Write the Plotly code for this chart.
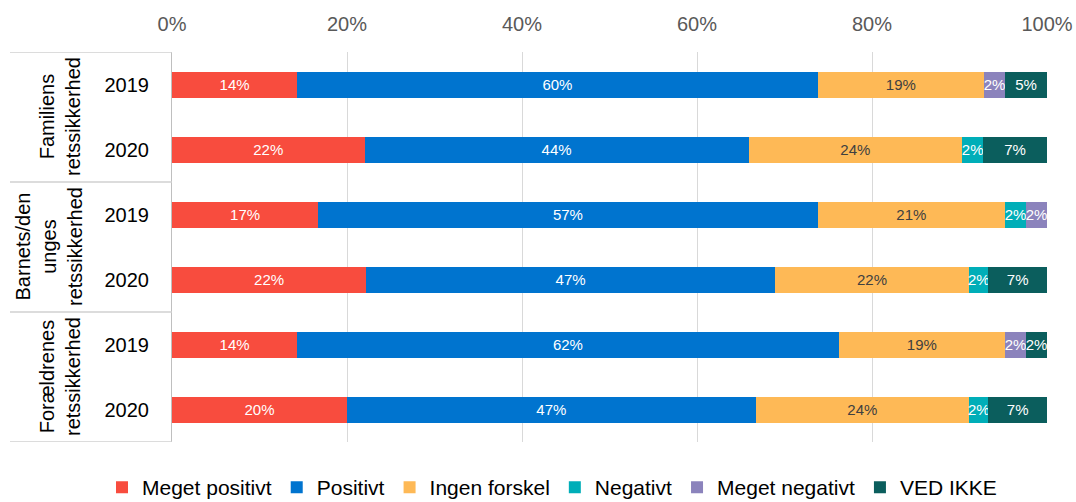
import plotly.graph_objects as go

groups = ["Familiens<br>retssikkerhed", "Barnets/den<br>unges<br>retssikkerhed", "Forældrenes<br>retssikkerhed"]
years = ["2019", "2020", "2019", "2020", "2019", "2020"]

series_names = ["Meget positivt", "Positivt", "Ingen forskel", "Negativt", "Meget negativt", "VED IKKE"]
meget_positivt = [14.3, 22.0, 16.7, 22.2, 14.3, 20.0]
positivt = [59.5, 43.9, 57.1, 46.7, 61.9, 46.7]
ingen_forskel = [19.0, 24.4, 21.4, 22.2, 19.0, 24.4]
negativt = [0, 2.4, 2.4, 2.2, 0, 2.2]
meget_negativt = [2.4, 0, 2.4, 0, 2.4, 0]
ved_ikke = [4.8, 7.3, 0, 6.7, 2.4, 6.7]

colors = ["#F84C3E", "#0074CF", "#FEB956", "#00AEB8", "#8B83BC", "#0B5E5D"]
text_colors = ["white", "white", "#404040", "white", "white", "white"]
all_series = [meget_positivt, positivt, ingen_forskel, negativt, meget_negativt, ved_ikke]

FONT = "Liberation Sans, Arial, sans-serif"
ypos = list(range(len(years)))

fig = go.Figure()
for name, vals, col, tcol in zip(series_names, all_series, colors, text_colors):
    fig.add_trace(go.Bar(
        y=ypos, x=[v if v else None for v in vals], orientation="h", name=name,
        marker=dict(color=col, line=dict(width=0)),
        text=[f"{v:.0f}%" if v else "" for v in vals],
        textposition="inside", insidetextanchor="middle", textangle=0,
        textfont=dict(color=tcol, size=15, family=FONT),
        width=0.4, hoverinfo="skip",
    ))

fig.update_layout(
    barmode="stack",
    width=1076, height=502,
    margin=dict(l=172, r=29, t=52, b=60, autoexpand=False),
    paper_bgcolor="white", plot_bgcolor="white",
    font=dict(family=FONT, size=20, color="#000000"),
    uniformtext=dict(minsize=15, mode="show"),
    showlegend=True,
    legend=dict(orientation="h", xref="paper", x=-0.08, xanchor="left",
                yref="paper", y=-0.117, yanchor="middle",
                font=dict(size=21, color="#000000"), traceorder="normal",
                itemwidth=30, tracegroupgap=0),
    xaxis=dict(side="top", range=[0, 100], tickvals=[0, 20, 40, 60, 80, 100],
               ticktext=["0%", "20%", "40%", "60%", "80%", "100%"],
               showgrid=True, gridcolor="#D9D9D9", gridwidth=1, zeroline=False,
               tickfont=dict(size=20, color="#595959"), ticks="", showline=False,
               ticklabelstandoff=16, automargin=False, fixedrange=True),
    yaxis=dict(range=[5.5, -0.5], tickvals=ypos, ticktext=years, showgrid=False, zeroline=False,
               tickfont=dict(size=20, color="#000000"), ticks="", ticklabelstandoff=18,
               showline=True, linecolor="#BFBFBF", linewidth=1, automargin=False),
)

# group separators (left table)
for yb in [-0.5, 1.5, 3.5, 5.5]:
    fig.add_shape(type="line", xref="paper", yref="y", x0=-162/875, x1=0, y0=yb, y1=yb,
                  line=dict(color="#D0D0D0", width=1.5))

centers_px = [60, 49, 60]
for i, g in enumerate(groups):
    fig.add_annotation(xref="paper", yref="y", x=0, xshift=centers_px[i] - 172, y=2 * i + 0.5,
                       text=g, textangle=-90, showarrow=False, xanchor="center", yanchor="middle",
                       align="center", font=dict(size=20, color="#000000", family=FONT))

fig.write_html("out.html")
